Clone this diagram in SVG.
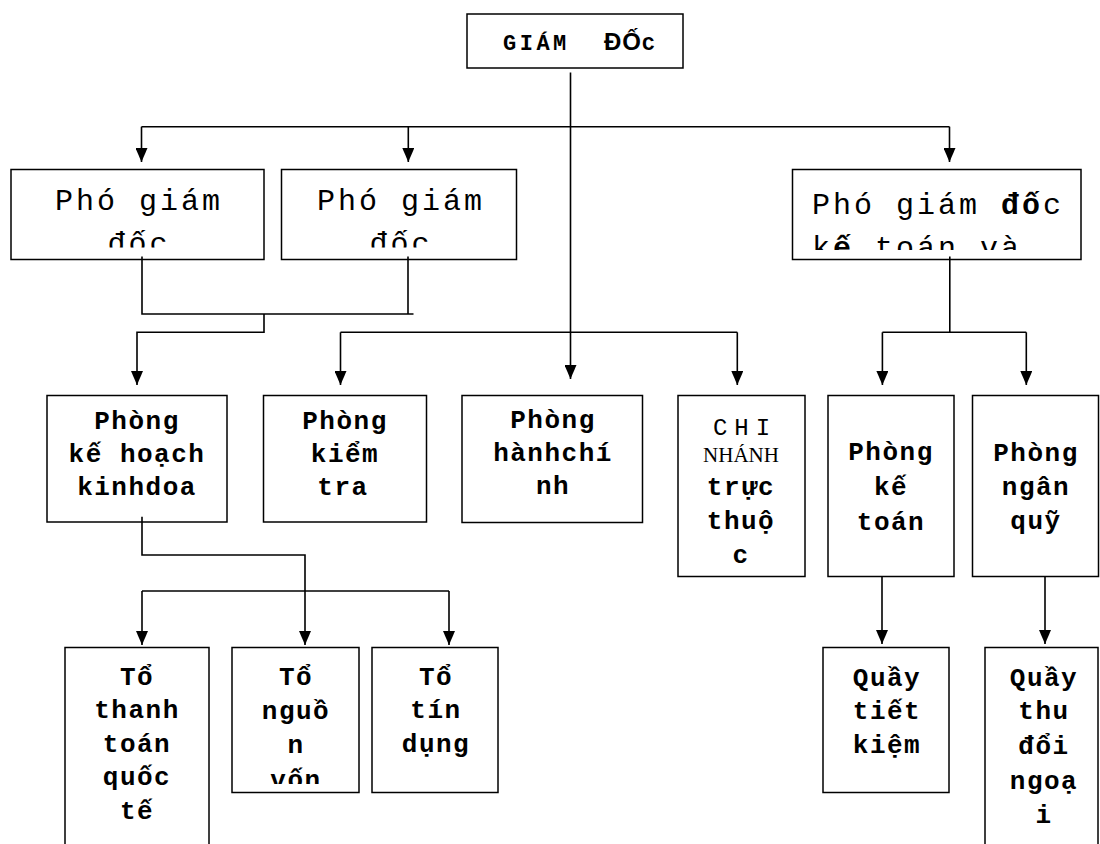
<svg xmlns="http://www.w3.org/2000/svg" width="1100" height="844" viewBox="0 0 1100 844">
<style>
.box{fill:#fff;stroke:#000;stroke-width:1.5}
.c{fill:none;stroke:#000;stroke-width:1.6}
.a{marker-end:url(#arr)}
.r{font-family:"Liberation Mono","Courier New",monospace;font-size:30px;letter-spacing:3px;fill:#000}
.b{font-family:"Liberation Mono","Courier New",monospace;font-size:26px;font-weight:bold;letter-spacing:1.5px;fill:#000;text-anchor:middle}
.m{text-anchor:middle}
.t{font-family:"Liberation Mono","Courier New",monospace;font-weight:bold;fill:#000}
</style>
<defs>
<marker id="arr" viewBox="0 0 14 12" refX="14" refY="6" markerWidth="14" markerHeight="12" markerUnits="userSpaceOnUse" orient="auto"><path d="M0,0 L14,6 L0,12 z" fill="#000"/></marker>
<clipPath id="cp1"><rect x="11" y="170" width="253" height="77.5"/></clipPath>
<clipPath id="cp2"><rect x="281" y="170" width="235" height="77.5"/></clipPath>
<clipPath id="cp3"><rect x="792" y="170" width="289" height="80"/></clipPath>
<clipPath id="cp4"><rect x="232" y="648" width="127" height="136"/></clipPath>
</defs>
<rect x="0" y="0" width="1100" height="844" fill="#fff"/>

<g id="giam-doc">
<rect class="box" x="467" y="14" width="216" height="54"/>
<text class="t" y="50"><tspan x="503" font-size="22" letter-spacing="3.5">GIÁM </tspan><tspan x="604" font-family="Liberation Sans, sans-serif" font-size="24" letter-spacing="1">ĐỐ</tspan><tspan font-size="21">C</tspan></text>
</g>

<g id="pho-giam-doc-1">
<rect class="box" x="11" y="169.5" width="253" height="90"/>
<g clip-path="url(#cp1)"><text class="r m" x="139" y="210">Phó giám</text><text class="r m" x="139" y="253">đốc</text></g>
</g>
<g id="pho-giam-doc-2">
<rect class="box" x="281.5" y="169.5" width="235" height="90"/>
<g clip-path="url(#cp2)"><text class="r m" x="401" y="210">Phó giám</text><text class="r m" x="401" y="253">đốc</text></g>
</g>
<g id="pho-giam-doc-ke-toan">
<rect class="box" x="792.5" y="169.5" width="288.5" height="90"/>
<g clip-path="url(#cp3)"><text class="r" x="812" y="214">Phó giám <tspan font-weight="bold">đố</tspan>c</text><text class="r" x="812" y="257">k<tspan font-weight="bold">ế</tspan> toán và</text></g>
</g>

<g id="phong-ke-hoach">
<rect class="box" x="47" y="395.5" width="180" height="126.5"/>
<text class="b" x="137" y="429">Phòng</text><text class="b" x="137" y="462">kế hoạch</text><text class="b" x="137" y="495">kinhdoa</text>
</g>
<g id="phong-kiem-tra">
<rect class="box" x="263.5" y="395.5" width="163" height="126.5"/>
<text class="b" x="345" y="429">Phòng</text><text class="b" x="345" y="462">kiểm</text><text class="b" x="343" y="495">tra</text>
</g>
<g id="phong-hanh-chinh">
<rect class="box" x="462" y="395.5" width="180.5" height="127"/>
<text class="b" x="553" y="428">Phòng</text><text class="b" x="553" y="461">hànhchí</text><text class="b" x="553" y="494">nh</text>
</g>
<g id="chi-nhanh">
<rect class="box" x="678" y="395.5" width="127" height="181"/>
<text x="745" y="435" text-anchor="middle" font-family="Liberation Mono, monospace" font-size="24" letter-spacing="7" fill="#000">CHI</text>
<text x="741" y="462" text-anchor="middle" font-family="Liberation Serif, serif" font-size="21" fill="#000">NHÁNH</text>
<text class="b" x="741" y="495">trực</text><text class="b" x="741" y="529">thuộ</text><text class="b" x="741" y="563">c</text>
</g>
<g id="phong-ke-toan">
<rect class="box" x="828" y="395.5" width="126" height="181"/>
<text class="b" x="891" y="460">Phòng</text><text class="b" x="891" y="495">kế</text><text class="b" x="891" y="530">toán</text>
</g>
<g id="phong-ngan-quy">
<rect class="box" x="972.5" y="395.5" width="126" height="181"/>
<text class="b" x="1036" y="461">Phòng</text><text class="b" x="1036" y="495">ngân</text><text class="b" x="1036" y="529">quỹ</text>
</g>

<g id="to-thanh-toan-quoc-te">
<rect class="box" x="65" y="647.5" width="144" height="230"/>
<text class="b" x="137" y="685">Tổ</text><text class="b" x="137" y="718">thanh</text><text class="b" x="137" y="752">toán</text><text class="b" x="137" y="785">quốc</text><text class="b" x="137" y="819">tế</text>
</g>
<g id="to-nguon-von">
<rect class="box" x="232" y="647.5" width="127" height="145"/>
<g clip-path="url(#cp4)"><text class="b" x="296" y="685">Tổ</text><text class="b" x="296" y="719">nguồ</text><text class="b" x="296" y="753">n</text><text class="b" x="296" y="788">vốn</text></g>
</g>
<g id="to-tin-dung">
<rect class="box" x="372" y="647.5" width="126" height="145"/>
<text class="b" x="436" y="685">Tổ</text><text class="b" x="436" y="718">tín</text><text class="b" x="436" y="752">dụng</text>
</g>
<g id="quay-tiet-kiem">
<rect class="box" x="823" y="647.5" width="126" height="145"/>
<text class="b" x="887" y="686">Quầy</text><text class="b" x="887" y="719">tiết</text><text class="b" x="887" y="753">kiệm</text>
</g>
<g id="quay-thu-doi-ngoai">
<rect class="box" x="985" y="647.5" width="113" height="230"/>
<text class="b" x="1044" y="686">Quầy</text><text class="b" x="1044" y="719">thu</text><text class="b" x="1044" y="754">đổi</text><text class="b" x="1044" y="789">ngoạ</text><text class="b" x="1044" y="823">i</text>
</g>

<g id="connectors">
<path class="c a" d="M570.5,72.5 V379"/>
<path class="c" d="M141.5,126.7 H949.5"/>
<path class="c a" d="M141.5,126.7 V162"/>
<path class="c a" d="M408.3,126.7 V162"/>
<path class="c a" d="M949.5,126.7 V162"/>
<path class="c" d="M142,256.5 V314 H413.5"/>
<path class="c" d="M408,256.5 V314"/>
<path class="c a" d="M264,314 V332.3 H137 V385"/>
<path class="c" d="M340.5,332.3 H737.3"/>
<path class="c a" d="M340.5,332.3 V385"/>
<path class="c a" d="M737.3,332.3 V385"/>
<path class="c" d="M949.8,256.5 V332.3"/>
<path class="c" d="M882.4,332.3 H1026.3"/>
<path class="c a" d="M882.4,332.3 V385"/>
<path class="c a" d="M1026.3,332.3 V385"/>
<path class="c a" d="M142,516.7 V555 H305 V645"/>
<path class="c" d="M142,591 H449"/>
<path class="c a" d="M142,591 V645"/>
<path class="c a" d="M449,591 V645"/>
<path class="c a" d="M882,576.5 V644"/>
<path class="c a" d="M1045,576.5 V644"/>
</g>
</svg>
